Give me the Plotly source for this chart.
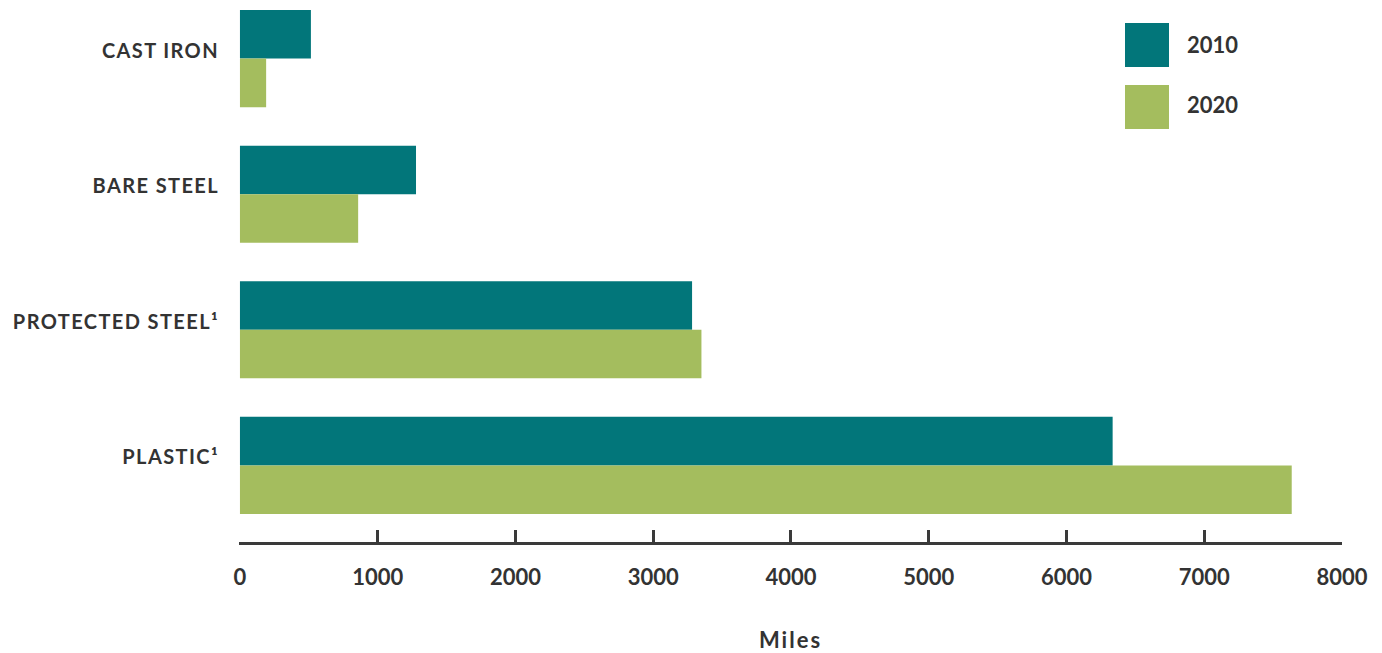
import plotly.graph_objects as go

# Miles of main by material
categories = ["CAST IRON", "BARE STEEL", "PROTECTED STEEL¹", "PLASTIC¹"]
years = ["2010", "2020"]
miles_2010 = [515, 1278, 3282, 6335]
miles_2020 = [190, 858, 3350, 7635]
x_ticks = [0, 1000, 2000, 3000, 4000, 5000, 6000, 7000, 8000]

colors = ["#02767A", "#A4BD5E"]
text_color = "#333333"
font_family = "Lato, 'Open Sans', sans-serif"

W, H = 1382, 653
L, R, T, B = 239, 40, 0, 111

fig = go.Figure()
for name, vals, col in zip(years, [miles_2010, miles_2020], colors):
    fig.add_trace(go.Bar(
        y=categories, x=vals, name=name, orientation="h",
        marker=dict(color=col, line=dict(width=0)),
        showlegend=False,
    ))


def px_x(p):
    return (p - L) / (W - L - R)


def px_y(p):
    return 1 - (p - T) / (H - T - B)


# custom legend: large square swatches with labels
shapes, annotations = [], []
label_centres = [44.5, 104.5]
for i, (name, col) in enumerate(zip(years, colors)):
    top = 23 + 62 * i
    shapes.append(dict(type="rect", xref="paper", yref="paper",
                       x0=px_x(1125), x1=px_x(1169), y0=px_y(top + 44), y1=px_y(top),
                       fillcolor=col, line=dict(width=0)))
    annotations.append(dict(text=name, xref="paper", yref="paper",
                            x=px_x(1185), y=px_y(label_centres[i]),
                            xanchor="left", yanchor="middle",
                            showarrow=False,
                            font=dict(family=font_family, size=22, color=text_color, weight="bold")))

fig.update_layout(
    width=W, height=H,
    margin=dict(l=L, r=R, t=T, b=B, pad=0),
    paper_bgcolor="white", plot_bgcolor="white",
    barmode="group", bargap=0.284, bargroupgap=0,
    shapes=shapes, annotations=annotations,
    font=dict(family=font_family, color=text_color),
)
fig.update_xaxes(
    range=[-7, 8000],
    tickvals=x_ticks, ticktext=[str(v) for v in x_ticks],
    showgrid=False, zeroline=False,
    showline=True, linecolor="#3a3a3a", linewidth=3,
    ticks="inside", ticklen=12, tickwidth=3, tickcolor="#3a3a3a",
    tickfont=dict(family=font_family, size=22, color=text_color, weight="bold"),
    ticklabelstandoff=14,
    title=dict(text="Miles", standoff=46,
               font=dict(family=font_family, size=22, color=text_color, weight="bold")),
)
fig.update_yaxes(
    range=[3.565, -0.432],
    showgrid=False, zeroline=False, showline=False, ticks="",
    tickfont=dict(family=font_family, size=20, color=text_color, weight="bold"),
    ticklabelstandoff=19,
    ticklabelshift=8,
)

post_script = """
var gd = document.getElementById('{plot_id}');
function spaceLabels() {
  gd.querySelectorAll('.ytick text').forEach(function (t) {
    t.style.letterSpacing = '1.4px';
  });
  gd.querySelectorAll('.g-xtitle text').forEach(function (t) {
    t.style.letterSpacing = '2px';
  });
}
spaceLabels();
gd.on('plotly_afterplot', spaceLabels);
"""

fig.write_html("out.html", post_script=post_script)
